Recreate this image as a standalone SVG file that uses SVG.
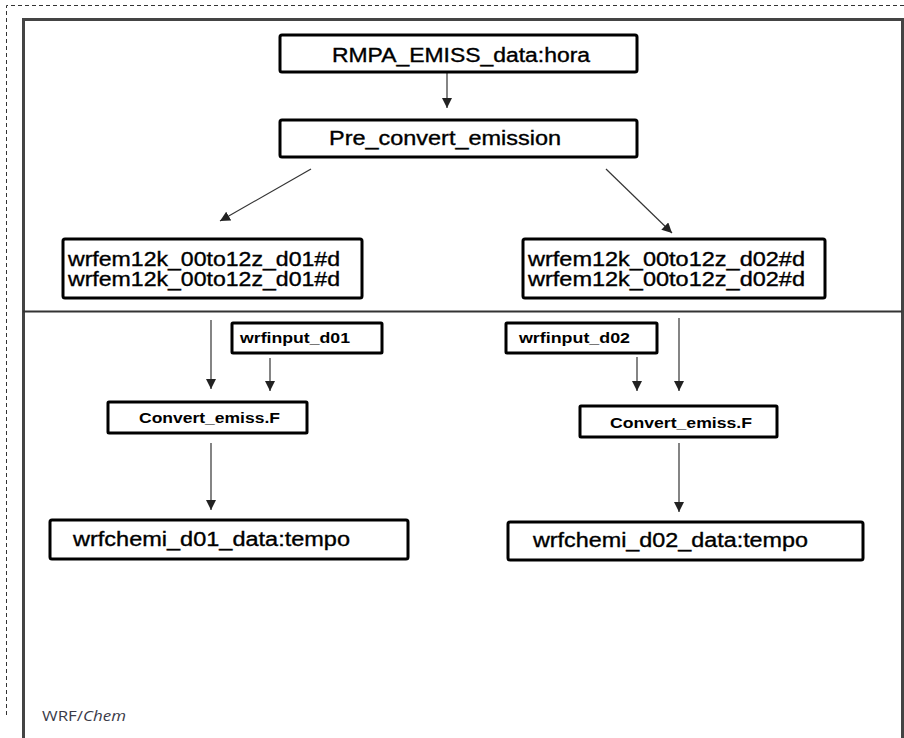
<svg xmlns="http://www.w3.org/2000/svg" width="904" height="738" viewBox="0 0 904 738">
<defs>
<marker id="ah" viewBox="0 0 10 10" refX="10" refY="5" markerWidth="10" markerHeight="10" markerUnits="userSpaceOnUse" orient="auto">
<path d="M0,0 L10,5 L0,10 z" fill="#222"/>
</marker>
<style>
.box{fill:#fff;stroke:#000;stroke-width:3}
.t{font-family:"Liberation Sans",Arial,sans-serif;font-size:20px;fill:#000;stroke:#000;stroke-width:0.35}
.tb{font-family:"Liberation Sans",Arial,sans-serif;font-size:15px;font-weight:bold;fill:#000}
.c{stroke:#333;stroke-width:1.2;fill:none;marker-end:url(#ah)}
.frame{stroke:#444;stroke-width:3;fill:none}
</style>
</defs>
<rect width="904" height="738" fill="#fff"/>
<g id="border">
<path d="M6.5,715 V5.5 H904" fill="none" stroke="#333" stroke-width="1" stroke-dasharray="4 3"/>
<path class="frame" d="M23.5,738 V19.5 H902.5 V738"/>
<line x1="23" y1="311.5" x2="902" y2="311.5" stroke="#333" stroke-width="2"/>
</g>
<g id="connectors">
<line class="c" x1="447" y1="73" x2="447" y2="108"/>
<line class="c" x1="311" y1="169" x2="220" y2="221"/>
<line class="c" x1="606" y1="169" x2="672" y2="233"/>
<line class="c" x1="211" y1="320" x2="211" y2="389"/>
<line class="c" x1="270" y1="358" x2="270" y2="391"/>
<line class="c" x1="211" y1="443" x2="211" y2="510"/>
<line class="c" x1="637" y1="357" x2="637" y2="391"/>
<line class="c" x1="679" y1="318" x2="679" y2="391"/>
<line class="c" x1="679" y1="443" x2="679" y2="512"/>
</g>
<g id="rmpa">
<rect class="box" x="280" y="35" width="357" height="37" rx="2"/>
<text class="t" x="332" y="62" textLength="258" lengthAdjust="spacingAndGlyphs">RMPA_EMISS_data:hora</text>
</g>
<g id="pre">
<rect class="box" x="280" y="120" width="357" height="37" rx="2"/>
<text class="t" x="329" y="145" textLength="232" lengthAdjust="spacingAndGlyphs">Pre_convert_emission</text>
</g>
<g id="wrfem_d01">
<rect class="box" x="63" y="239" width="299" height="59" rx="2"/>
<text class="t" x="68" y="266" textLength="272" lengthAdjust="spacingAndGlyphs">wrfem12k_00to12z_d01#d</text>
<text class="t" x="68" y="286" textLength="272" lengthAdjust="spacingAndGlyphs">wrfem12k_00to12z_d01#d</text>
</g>
<g id="wrfem_d02">
<rect class="box" x="523" y="239" width="302" height="59" rx="2"/>
<text class="t" x="528" y="266" textLength="277" lengthAdjust="spacingAndGlyphs">wrfem12k_00to12z_d02#d</text>
<text class="t" x="528" y="286" textLength="277" lengthAdjust="spacingAndGlyphs">wrfem12k_00to12z_d02#d</text>
</g>
<g id="wrfinput_d01">
<rect class="box" x="232" y="323" width="150" height="30" rx="1"/>
<text class="tb" x="240" y="343" textLength="110" lengthAdjust="spacingAndGlyphs">wrfinput_d01</text>
</g>
<g id="wrfinput_d02">
<rect class="box" x="506" y="323" width="151" height="30" rx="1"/>
<text class="tb" x="519" y="343" textLength="111" lengthAdjust="spacingAndGlyphs">wrfinput_d02</text>
</g>
<g id="convert_d01">
<rect class="box" x="108" y="402" width="199" height="31" rx="1"/>
<text class="tb" x="139" y="423" textLength="141" lengthAdjust="spacingAndGlyphs">Convert_emiss.F</text>
</g>
<g id="convert_d02">
<rect class="box" x="580" y="406" width="197" height="31" rx="1"/>
<text class="tb" x="610" y="428" textLength="142" lengthAdjust="spacingAndGlyphs">Convert_emiss.F</text>
</g>
<g id="wrfchemi_d01">
<rect class="box" x="50" y="520" width="358" height="39" rx="2"/>
<text class="t" x="73" y="546" textLength="277" lengthAdjust="spacingAndGlyphs">wrfchemi_d01_data:tempo</text>
</g>
<g id="wrfchemi_d02">
<rect class="box" x="508" y="522" width="355" height="38" rx="2"/>
<text class="t" x="533" y="547" textLength="275" lengthAdjust="spacingAndGlyphs">wrfchemi_d02_data:tempo</text>
</g>
<g id="label">
<text x="42" y="721" font-family="'Open Sans','DejaVu Sans',sans-serif" font-size="14" fill="#3a3a48" textLength="84" lengthAdjust="spacingAndGlyphs">WRF/<tspan font-style="italic">Chem</tspan></text>
</g>
</svg>
